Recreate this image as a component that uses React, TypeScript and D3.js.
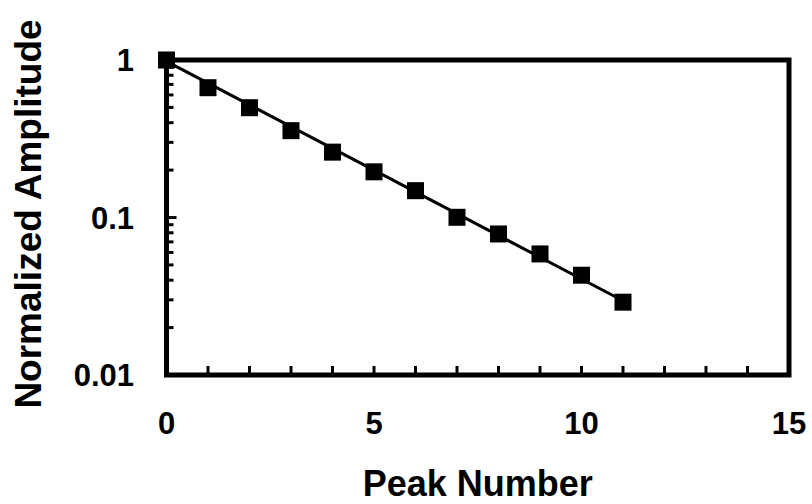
import React from "react";
import * as d3 from "d3";

const peakNumbers = [0, 1, 2, 3, 4, 5, 6, 7, 8, 9, 10, 11];
const amplitudes = [1.0, 0.667, 0.498, 0.356, 0.26, 0.195, 0.148, 0.1003, 0.0786, 0.0587, 0.043, 0.029];
const fitX = [0, 11];
const fitY = [0.98, 0.0296];
const xTickLabels = [0, 5, 10, 15];
const yTickLabels = [1, 0.1, 0.01];

const W = 812;
const H = 504;
const left = 166.5;
const right = 789;
const top = 60;
const bottom = 375;
const FONT = "'Liberation Sans', Arial, sans-serif";

export default function App() {
  const x = d3.scaleLinear().domain([0, 15]).range([left, right]);
  const y = d3.scaleLog().domain([0.01, 1]).range([bottom, top]);

  const xMinor = d3.range(0, 16);
  const yMinor: number[] = [];
  [0.01, 0.1].forEach((dec) => {
    for (let k = 2; k <= 9; k++) yMinor.push(dec * k);
  });

  const line = d3
    .line<number>()
    .x((_, i) => x(fitX[i]))
    .y((d) => y(d));

  const ms = 17;

  return (
    <svg
      width={W}
      height={H}
      style={{ position: "absolute", left: 0, top: 0, background: "#fff" }}
    >
      {xMinor.map((v) => (
        <line key={"xt" + v} x1={x(v)} x2={x(v)} y1={bottom} y2={bottom - 9} stroke="#000" strokeWidth={3} />
      ))}
      {yMinor.map((v, i) => (
        <line key={"ym" + i} x1={left} x2={left + 7} y1={y(v)} y2={y(v)} stroke="#000" strokeWidth={3} />
      ))}
      <line x1={left} x2={left + 10} y1={y(0.1)} y2={y(0.1)} stroke="#000" strokeWidth={3} />

      <rect x={left} y={top} width={right - left} height={bottom - top} fill="none" stroke="#000" strokeWidth={5} />

      <path d={line(fitY) || ""} fill="none" stroke="#000" strokeWidth={3} />

      {peakNumbers.map((p, i) => (
        <rect key={"m" + i} x={x(p) - ms / 2} y={y(amplitudes[i]) - ms / 2} width={ms} height={ms} fill="#000" />
      ))}

      {yTickLabels.map((v) => (
        <text
          key={"yl" + v}
          x={134}
          y={y(v)}
          dy="0.36em"
          textAnchor="end"
          fontFamily={FONT}
          fontWeight="bold"
          fontSize={31}
        >
          {String(v)}
        </text>
      ))}

      {xTickLabels.map((v) => (
        <text
          key={"xl" + v}
          x={x(v)}
          y={434}
          textAnchor="middle"
          fontFamily={FONT}
          fontWeight="bold"
          fontSize={31}
        >
          {String(v)}
        </text>
      ))}

      <text x={(left + right) / 2} y={496} textAnchor="middle" fontFamily={FONT} fontWeight="bold" fontSize={36}>
        Peak Number
      </text>
      <text
        transform={`translate(41, 214) rotate(-90)`}
        textAnchor="middle"
        fontFamily={FONT}
        fontWeight="bold"
        fontSize={37}
      >
        Normalized Amplitude
      </text>
    </svg>
  );
}
